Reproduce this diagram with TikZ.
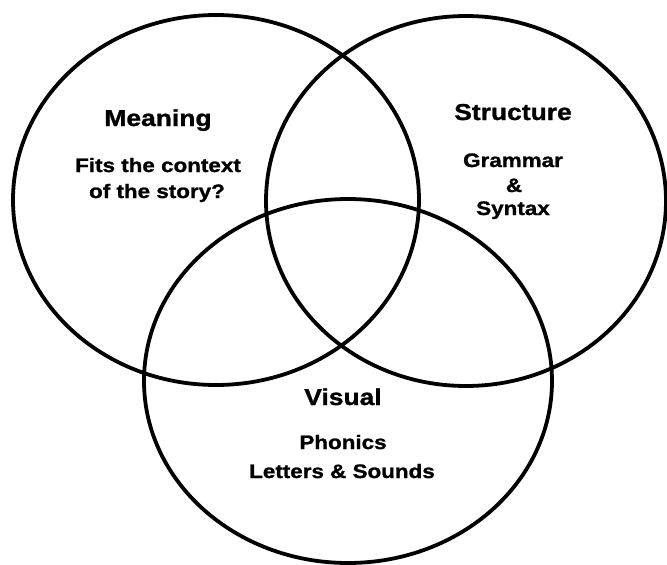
\documentclass[tikz,border=0pt]{standalone}
\usepackage{fontspec}
\setmainfont{Liberation Sans}[FakeStretch=1.15,BoldFeatures={FakeBold=1.2}]
\begin{document}
\begin{tikzpicture}[x=1pt,y=-1pt,
  ring/.style={draw=black,line width=3.8pt},
  head/.style={inner sep=0pt,anchor=base,font=\fontsize{23}{27}\selectfont\bfseries},
  body/.style={inner sep=0pt,anchor=base,font=\fontsize{19.5}{23}\selectfont\bfseries}]
\fill[white] (0,0) rectangle (667,565);
\useasboundingbox (0,0) rectangle (667,565);
\draw[ring] (216,200) ellipse [x radius=203, y radius=185];
\draw[ring] (466,201) ellipse [x radius=200, y radius=185];
\draw[ring] (348,381) ellipse [x radius=204, y radius=182];
\node[head] (meaning) at (158,126) {Meaning};
\node[body] (fits) at (158,172) {Fits the context};
\node[body] (story) at (157,198) {of the story?};
\node[head] (structure) at (513,120) {Structure};
\node[body] (grammar) at (513,167) {Grammar};
\node[body] (amp) at (514,192) {\&};
\node[body] (syntax) at (513,215) {Syntax};
\node[head] (visual) at (343,405) {Visual};
\node[body] (phonics) at (343,449) {Phonics};
\node[body] (letters) at (342,478) {Letters \& Sounds};
\end{tikzpicture}
\end{document}
